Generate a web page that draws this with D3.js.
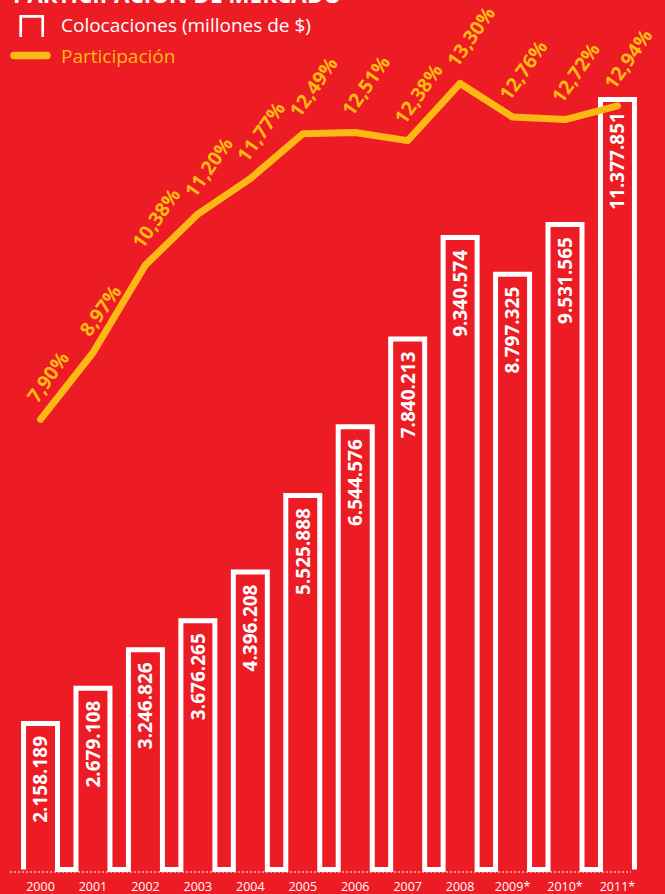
<!DOCTYPE html>
<html>
<head>
<meta charset="utf-8">
<script src="https://cdn.jsdelivr.net/npm/d3@7"></script>
<style>
  html, body { margin: 0; padding: 0; background: #ED1C24; }
  svg { display: block; }
  text { font-family: "Open Sans", "Noto Sans", sans-serif; }
</style>
</head>
<body>
<div id="chart"></div>
<script>
// ---- data ----
const years = ["2000","2001","2002","2003","2004","2005","2006","2007","2008","2009*","2010*","2011*"];
const colocaciones = [2158189, 2679108, 3246826, 3676265, 4396208, 5525888, 6544576, 7840213, 9340574, 8797325, 9531565, 11377851];
const participacion = [7.90, 8.97, 10.38, 11.20, 11.77, 12.49, 12.51, 12.38, 13.30, 12.76, 12.72, 12.94];
const title = "PARTICIPACIÓN DE MERCADO";
const legendBars = "Colocaciones (millones de $)";
const legendLine = "Participación";

// ---- layout ----
const W = 665, H = 894;
const RED = "#ED1C24", ORANGE = "#FDB913", WHITE = "#FFFFFF";
const base = 869.5;

const svg = d3.select("#chart").append("svg").attr("width", W).attr("height", H);
svg.append("rect").attr("width", W).attr("height", H).attr("fill", RED);

const x = d3.scaleBand().domain(years).range([14.3, 643.7]).paddingInner(0.352).paddingOuter(0.176);
const y = d3.scaleLinear().domain([0, 12000000]).range([base, base - 812]);
const yp = d3.scaleLinear().domain([7, 14]).range([475.3, 39.9]);

const fmt = v => d3.format(",")(v).replace(/,/g, ".");
const fmtP = v => d3.format(".2f")(v).replace(".", ",") + "%";

// title (cut at top, as in the reference)
svg.append("text").attr("x", 13).attr("y", 3).attr("fill", WHITE)
  .attr("font-weight", 700).attr("font-size", 22.5).text(title);

// legend
svg.append("path").attr("d", "M20.7,37 V16.3 H42.7 V37").attr("fill", "none")
  .attr("stroke", WHITE).attr("stroke-width", 2.7);
svg.append("text").attr("x", 61).attr("y", 32.3).attr("fill", WHITE)
  .attr("font-size", 19).text(legendBars);
svg.append("line").attr("x1", 14).attr("x2", 47).attr("y1", 55.5).attr("y2", 55.5)
  .attr("stroke", ORANGE).attr("stroke-width", 7.5).attr("stroke-linecap", "round");
svg.append("text").attr("x", 61).attr("y", 62.5).attr("fill", ORANGE)
  .attr("font-size", 19).text(legendLine);

// dotted baseline
svg.append("line").attr("x1", 10).attr("x2", 631).attr("y1", base + 2.5).attr("y2", base + 2.5)
  .attr("stroke", WHITE).attr("stroke-width", 1).attr("stroke-dasharray", "2,2");

// bars as a continuous square-wave outline
const p = d3.path();
years.forEach((yr, i) => {
  const xl = x(yr), xr = x(yr) + x.bandwidth(), top = y(colocaciones[i]);
  if (i === 0) p.moveTo(xl, base); else p.lineTo(xl, base);
  p.lineTo(xl, top);
  p.lineTo(xr, top);
  p.lineTo(xr, base);
});
svg.append("path").attr("d", p.toString()).attr("fill", "none")
  .attr("stroke", WHITE).attr("stroke-width", 5).attr("stroke-linejoin", "miter");

// bar value labels
svg.append("g").selectAll("text").data(years).join("text")
  .attr("transform", (d, i) => `translate(${x(d) + x.bandwidth() / 2},${y(colocaciones[i]) + 12.5}) rotate(-90)`)
  .attr("text-anchor", "end").attr("dy", "0.36em")
  .attr("fill", WHITE).attr("font-weight", 700).attr("font-size", 19)
  .text((d, i) => fmt(colocaciones[i]));

// year labels
svg.append("g").selectAll("text").data(years).join("text")
  .attr("x", d => x(d) + x.bandwidth() / 2).attr("y", 891)
  .attr("text-anchor", "middle").attr("fill", WHITE).attr("font-size", 12.5)
  .text(d => d);

// participation line
const cx = d => x(d) + x.bandwidth() / 2;
const line = d3.line().x((d, i) => cx(years[i])).y(d => yp(d));
svg.append("path").attr("d", line(participacion)).attr("fill", "none")
  .attr("stroke", ORANGE).attr("stroke-width", 7).attr("stroke-linecap", "round")
  .attr("stroke-linejoin", "round");

// participation labels
svg.append("g").selectAll("text").data(participacion).join("text")
  .attr("transform", (d, i) => `translate(${cx(years[i]) - 3},${yp(d) - 15}) rotate(-55)`)
  .attr("fill", ORANGE).attr("font-weight", 700).attr("font-size", 19.5)
  .text(d => fmtP(d));
</script>
</body>
</html>
